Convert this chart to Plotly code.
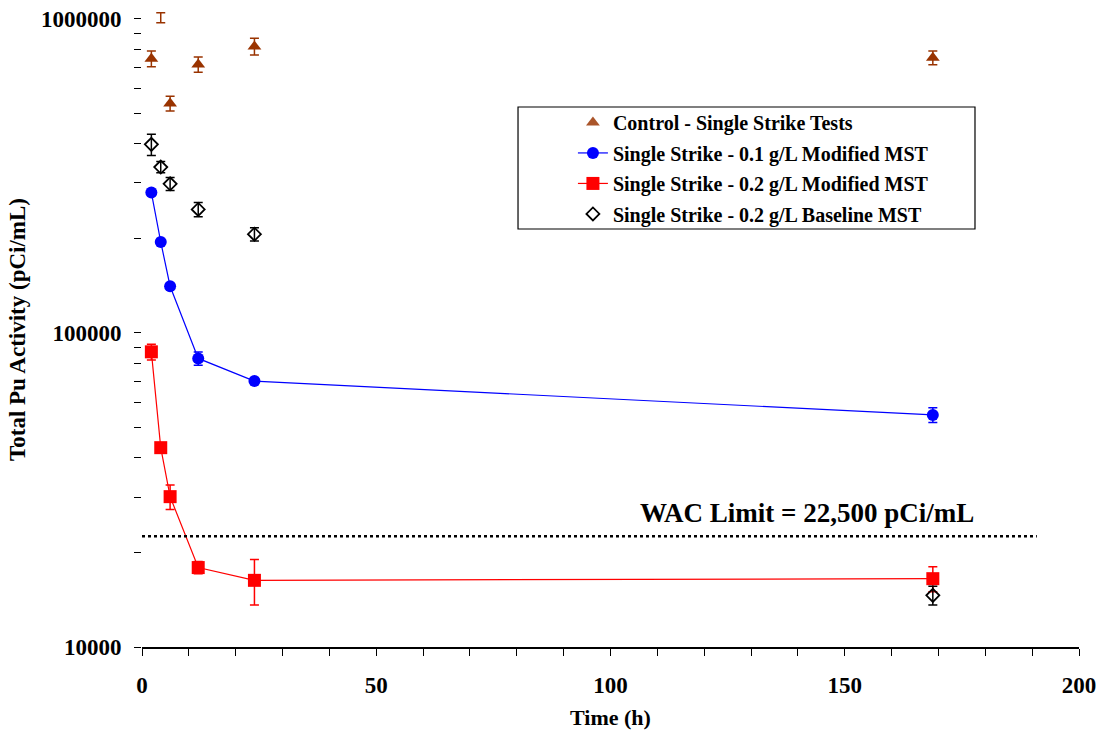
import plotly.graph_objects as go

# ---- data ----
time_h = [2, 4, 6, 12, 24, 168.8]

control_y = [746000, 1008000, 537000, 715000, 816000, 751000]
control_err = [43000, 37000, 29000, 40000, 50000, 38000]
control_visible = [1, 0, 1, 1, 1, 1]

mod01_y = [279600, 194700, 140700, 82900, 70200, 54800]
mod01_err = [0, 0, 0, 4000, 0, 3000]

mod02_y = [87000, 43100, 30100, 17900, 16300, 16500]
mod02_err = [5000, 0, 2700, 800, 2700, 1500]

base02_y = [398000, 337000, 298000, 247000, 206000, 14600]
base02_err = [31000, 14000, 14000, 13000, 10000, 1000]

wac_limit = 22500
wac_x = [0, 191]

x_tickvals = list(range(0, 201, 10))
x_ticktext = [str(v) if v % 50 == 0 else "" for v in x_tickvals]
y_tickvals = [m * 10 ** e for e in (4, 5) for m in range(1, 10)] + [1000000]
y_ticktext = [str(v) if str(v).strip("0") == "1" else "" for v in y_tickvals]

FONT = "Liberation Serif"
BROWN = "#993300"

fig = go.Figure()

fig.add_trace(go.Scatter(
    x=time_h, y=control_y, mode="markers", name="Control - Single Strike Tests",
    marker=dict(symbol="triangle-up", size=12, color=BROWN, opacity=control_visible),
    error_y=dict(type="data", array=control_err, color=BROWN, thickness=1.5, width=4.5),
    cliponaxis=False, legendgroup="a",
))
fig.add_trace(go.Scatter(
    x=time_h, y=mod01_y, mode="lines+markers", name="Single Strike - 0.1 g/L Modified MST",
    line=dict(color="#0000FF", width=1.2),
    marker=dict(symbol="circle", size=12, color="#0000FF"),
    error_y=dict(type="data", array=mod01_err, color="#0000FF", thickness=1.5, width=4.5),
    legendgroup="b",
))
fig.add_trace(go.Scatter(
    x=time_h, y=mod02_y, mode="lines+markers", name="Single Strike - 0.2 g/L Modified MST",
    line=dict(color="#FF0000", width=1.2),
    marker=dict(symbol="square", size=13, color="#FF0000"),
    error_y=dict(type="data", array=mod02_err, color="#FF0000", thickness=1.5, width=4.5),
    legendgroup="c",
))
fig.add_trace(go.Scatter(
    x=time_h, y=base02_y, mode="markers", name="Single Strike - 0.2 g/L Baseline MST",
    marker=dict(symbol="diamond-open", size=10, color="black", line=dict(width=1.8, color="black")),
    error_y=dict(type="data", array=base02_err, color="black", thickness=1.5, width=4.5),
    legendgroup="d",
))
fig.add_trace(go.Scatter(
    x=wac_x, y=[wac_limit, wac_limit], mode="lines", showlegend=False,
    line=dict(color="black", width=2.5, dash="dot"), hoverinfo="skip",
))

fig.add_annotation(
    x=178.1, y=4.4263, xref="x", yref="y", text="WAC Limit = 22,500 pCi/mL",
    showarrow=False, xanchor="right", yanchor="middle",
    font=dict(family=FONT, size=27, color="black", weight="bold"),
)

# legend frame
fig.add_shape(type="rect", xref="paper", yref="paper",
              x0=0.4013, x1=0.889, y0=0.6583, y1=0.8504,
              line=dict(color="black", width=1.2), fillcolor="white", layer="below")
# y axis line (plot range extends slightly above 1e6 so top error bar is not clipped)
fig.add_shape(type="line", xref="paper", yref="y", x0=0, x1=0, y0=4, y1=6,
              line=dict(color="black", width=1.5), layer="above")

y_top = 6.0212

fig.update_layout(
    width=1102, height=730,
    margin=dict(l=142, r=23, t=12, b=83),
    paper_bgcolor="white", plot_bgcolor="white",
    font=dict(family=FONT, size=22, color="black", weight="bold"),
    showlegend=True,
    legend=dict(x=0.4599, y=0.8568, xanchor="left", yanchor="top",
                bgcolor="rgba(0,0,0,0)", borderwidth=0,
                font=dict(family=FONT, size=20, color="black", weight="bold"),
                tracegroupgap=1.5, traceorder="grouped"),
    xaxis=dict(range=[0, 200], tickvals=x_tickvals, ticktext=x_ticktext,
               ticks="outside", ticklen=7, tickwidth=1, tickcolor="black",
               showline=True, linecolor="black", linewidth=1.5, showgrid=False, zeroline=False,
               automargin=False, ticklabelstandoff=10,
               title=dict(text="Time (h)", font=dict(size=22), standoff=16),
               tickfont=dict(size=23)),
    yaxis=dict(type="log", range=[4, y_top], tickvals=y_tickvals, ticktext=y_ticktext,
               ticks="outside", ticklen=7, tickwidth=1, tickcolor="black",
               showline=False, showgrid=False, zeroline=False,
               automargin=False, ticklabelstandoff=8,
               title=dict(text="Total Pu Activity (pCi/mL)", font=dict(size=23), standoff=8),
               tickfont=dict(size=23)),
)

fig.write_html("out.html", config={"displayModeBar": False})

# remove the browser's default page margin so the figure sits at the window origin
with open("out.html", "r", encoding="utf-8") as f:
    html = f.read()
html = html.replace("<head>", "<head><style>html,body{margin:0;padding:0;}</style>", 1)
with open("out.html", "w", encoding="utf-8") as f:
    f.write(html)
